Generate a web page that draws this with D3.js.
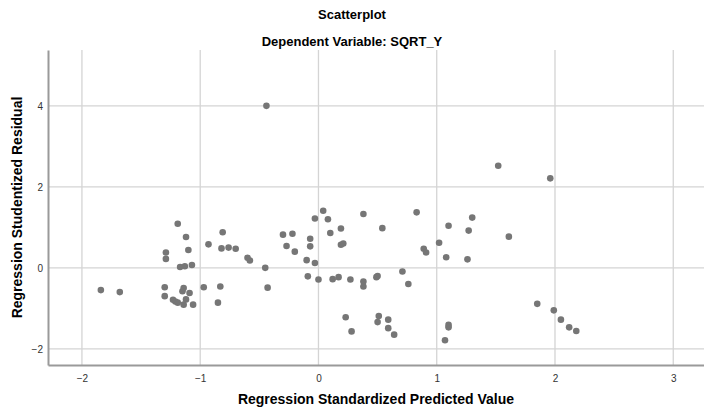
<!DOCTYPE html>
<html>
<head>
<meta charset="utf-8">
<script src="https://cdn.jsdelivr.net/npm/d3@7"></script>
<style>
  body { margin: 0; background: #fff; }
  text { font-family: "Liberation Sans", Arial, sans-serif; }
</style>
</head>
<body>
<div id="chart"></div>
<script>
// predicted (standardized) values, x
const predicted = [
  -0.44,
  -1.19, -1.12, -1.10, -1.29, -1.29, -1.17, -1.13, -1.07, -0.93, -0.81, -0.82, -0.76, -0.70, -0.60, -0.58, -0.45,
  -1.84, -1.68, -1.30, -1.30, -1.14, -1.15, -1.09, -1.23, -1.21, -1.19, -1.12, -1.14, -1.06, -0.97, -0.83, -0.85, -0.43,
  -0.30, -0.22, -0.27, -0.20, -0.10, -0.03, -0.07, -0.07, -0.03, 0.04, 0.08, 0.10, 0.19, 0.19, 0.21, 0.38, 0.54, 0.83,
  0.89, 0.91, 1.02, 1.10, 1.08, 1.30, 1.27, 1.26,
  -0.09, 0.00, 0.12, 0.17, 0.27, 0.38, 0.38, 0.49, 0.50, 0.71, 0.76,
  0.23, 0.28, 0.51, 0.50, 0.59, 0.59, 0.64, 1.10, 1.10, 1.07,
  1.52, 1.96, 1.61,
  1.85, 1.99, 2.05, 2.12, 2.18
];
// studentized residuals, y
const residual = [
  4.00,
  1.09, 0.76, 0.44, 0.38, 0.22, 0.02, 0.04, 0.07, 0.58, 0.88, 0.48, 0.50, 0.47, 0.25, 0.18, 0.00,
  -0.55, -0.60, -0.48, -0.70, -0.50, -0.58, -0.62, -0.79, -0.83, -0.86, -0.78, -0.91, -0.91, -0.48, -0.46, -0.86, -0.49,
  0.82, 0.84, 0.54, 0.40, 0.19, 0.12, 0.72, 0.53, 1.22, 1.41, 1.20, 0.86, 0.97, 0.57, 0.60, 1.33, 0.98, 1.37,
  0.47, 0.38, 0.62, 1.04, 0.26, 1.24, 0.92, 0.21,
  -0.21, -0.29, -0.28, -0.23, -0.29, -0.34, -0.46, -0.23, -0.20, -0.09, -0.40,
  -1.22, -1.57, -1.19, -1.34, -1.28, -1.49, -1.65, -1.41, -1.47, -1.79,
  2.52, 2.21, 0.77,
  -0.89, -1.05, -1.28, -1.47, -1.56
];
const xTicks = [-2, -1, 0, 1, 2, 3];
const yTicks = [-2, 0, 2, 4];

const W = 704, H = 411;
const margin = { top: 50, right: 0, bottom: 46, left: 48 };
const width = W - margin.left - margin.right,
      height = H - margin.top - margin.bottom;

const svg = d3.select("#chart")
  .append("svg")
  .attr("width", W)
  .attr("height", H);

const g = svg.append("g")
  .attr("transform", `translate(${margin.left}, ${margin.top})`);

const x = d3.scaleLinear().domain([-2.287, 3.26]).range([0, width]);
const y = d3.scaleLinear().domain([-2.40, 5.38]).range([height, 0]);

// grid
g.append("g").selectAll("line")
  .data(xTicks)
  .join("line")
  .attr("x1", d => x(d)).attr("x2", d => x(d))
  .attr("y1", 0).attr("y2", height)
  .attr("stroke", "#d4d4d4").attr("stroke-width", 1.3);
g.append("g").selectAll("line")
  .data(yTicks)
  .join("line")
  .attr("x1", 0).attr("x2", width)
  .attr("y1", d => y(d)).attr("y2", d => y(d))
  .attr("stroke", "#d4d4d4").attr("stroke-width", 1.3);

// axes
const xAxis = g.append("g")
  .attr("transform", `translate(0, ${height})`)
  .call(d3.axisBottom(x).tickValues(xTicks).tickSize(0).tickPadding(10).tickFormat(d3.format("d")));
const yAxis = g.append("g")
  .call(d3.axisLeft(y).tickValues(yTicks).tickSize(0).tickPadding(5).tickFormat(d3.format("d")));
[xAxis, yAxis].forEach(a => {
  a.select(".domain").attr("stroke", "#9a9a9a").attr("stroke-width", 2);
  a.selectAll("text").attr("font-size", 10).attr("fill", "#333")
    .style("font-family", "'Liberation Sans', Arial, sans-serif");
});

// points
g.append("g")
  .selectAll("circle")
  .data(predicted.map((p, i) => [p, residual[i]]))
  .join("circle")
  .attr("cx", d => x(d[0]))
  .attr("cy", d => y(d[1]))
  .attr("r", 3.3)
  .style("fill", "#767676");

// titles
svg.append("text")
  .attr("x", 352).attr("y", 19)
  .attr("text-anchor", "middle")
  .attr("font-size", 13).attr("font-weight", "bold")
  .text("Scatterplot");
svg.append("text")
  .attr("x", 352).attr("y", 46)
  .attr("text-anchor", "middle")
  .attr("font-size", 13).attr("font-weight", "bold")
  .text("Dependent Variable: SQRT_Y");

svg.append("text")
  .attr("x", margin.left + width / 2).attr("y", 404)
  .attr("text-anchor", "middle")
  .attr("font-size", 14).attr("font-weight", "bold")
  .text("Regression Standardized Predicted Value");

svg.append("text")
  .attr("transform", "rotate(-90)")
  .attr("x", -(margin.top + height / 2)).attr("y", 22)
  .attr("text-anchor", "middle")
  .attr("font-size", 14).attr("font-weight", "bold")
  .text("Regression Studentized Residual");
</script>
</body>
</html>
